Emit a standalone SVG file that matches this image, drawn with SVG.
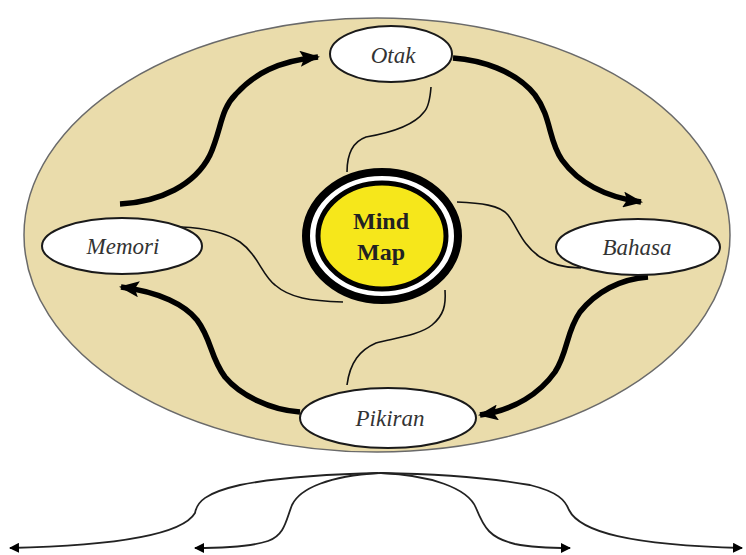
<svg xmlns="http://www.w3.org/2000/svg" width="746" height="555" viewBox="0 0 746 555">
<defs>
<marker id="big" viewBox="0 0 20 16" refX="18" refY="8" markerWidth="20" markerHeight="16" markerUnits="userSpaceOnUse" orient="auto">
<path d="M0,0 L20,8 L0,16 L4,8 Z" fill="#000"/>
</marker>
<marker id="small" viewBox="0 0 10 10" refX="9" refY="5" markerWidth="10" markerHeight="10" markerUnits="userSpaceOnUse" orient="auto">
<path d="M0,0 L10,5 L0,10 Z" fill="#000"/>
</marker>
<style>
.node ellipse{fill:#fff;stroke:#1a1a1a;stroke-width:2}
.lbl{font-family:"Liberation Serif",serif;font-style:italic;font-size:23px;fill:#333;text-anchor:middle}
.thick{fill:none;stroke:#000;stroke-width:5.5;stroke-linecap:butt}
.thin{fill:none;stroke:#111;stroke-width:1.6}
.bot{fill:none;stroke:#222;stroke-width:1.8}
</style>
</defs>
<rect width="746" height="555" fill="#fff"/>
<ellipse id="frame" cx="377" cy="235" rx="353" ry="217" fill="#EADCAB" stroke="#6a6a6a" stroke-width="1.5"/>
<g id="connectors">
<path class="thin" d="M431,87 C430,100 428,108 424,112 C415,124 395,132 366,137 C352,142 347,155 347,172"/>
<path class="thin" d="M457,202 C480,203 500,205 508,215 C518,228 522,245 540,257 C552,265 565,268 581,268"/>
<path class="thin" d="M181,227 C205,228 225,232 240,242 C258,255 262,275 275,285 C290,298 310,301 343,302"/>
<path class="thin" d="M445,290 C446,305 444,315 432,325 C420,335 395,338 376,343 C360,350 350,362 347,385"/>
<path class="thick" marker-end="url(#big)" d="M120,204 C160,202 195,185 210,155 C222,128 220,110 236,94 C254,74 278,61 318,57"/>
<path class="thick" marker-end="url(#big)" d="M453,58 C480,60 515,70 535,95 C552,118 548,140 562,160 C578,182 605,197 641,202"/>
<path class="thick" marker-end="url(#big)" d="M648,277 C620,279 596,292 580,312 C566,332 568,352 555,372 C540,393 515,410 480,415"/>
<path class="thick" marker-end="url(#big)" d="M300,412 C270,410 240,395 225,377 C210,357 212,340 197,320 C185,305 160,292 121,287"/>
<path class="bot" marker-end="url(#small)" d="M381,473 C330,474 280,477 240,485 C205,493 197,502 195,513 C185,530 140,545 10,548"/>
<path class="bot" marker-end="url(#small)" d="M378,473 C330,476 300,488 292,505 C286,520 285,535 268,541 C250,547 225,548 195,548"/>
<path class="bot" marker-end="url(#small)" d="M381,473 C430,475 468,488 476,508 C484,528 490,538 515,544 C530,547 550,548 570,548"/>
<path class="bot" marker-end="url(#small)" d="M381,473 C440,474 490,478 530,485 C558,492 565,500 569,510 C580,532 630,545 742,548"/>
</g>
<g id="mindmap">
<ellipse cx="382" cy="236" rx="76" ry="64" fill="#fff" stroke="#000" stroke-width="8"/>
<ellipse cx="382" cy="236" rx="64" ry="53" fill="#F6E71B" stroke="#000" stroke-width="5"/>
<text x="381" y="229" font-family="Liberation Serif,serif" font-weight="bold" font-size="24" fill="#222" text-anchor="middle">Mind</text>
<text x="381" y="260" font-family="Liberation Serif,serif" font-weight="bold" font-size="24" fill="#222" text-anchor="middle">Map</text>
</g>
<g id="otak" class="node">
<ellipse cx="391" cy="54" rx="61" ry="28"/>
<text class="lbl" x="393" y="63">Otak</text>
</g>
<g id="memori" class="node">
<ellipse cx="122" cy="246" rx="80" ry="28"/>
<text class="lbl" x="123" y="254">Memori</text>
</g>
<g id="bahasa" class="node">
<ellipse cx="638" cy="247" rx="82" ry="28"/>
<text class="lbl" x="637" y="255">Bahasa</text>
</g>
<g id="pikiran" class="node">
<ellipse cx="388" cy="418" rx="88" ry="30"/>
<text class="lbl" x="390" y="426">Pikiran</text>
</g>
</svg>
